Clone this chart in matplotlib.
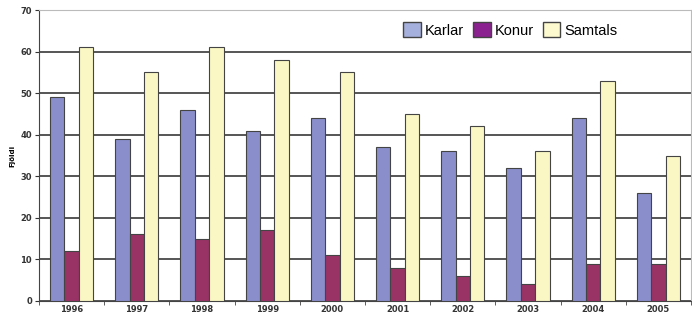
import numpy as np
import matplotlib.pyplot as plt

years = ['1996', '1997', '1998', '1999', '2000', '2001', '2002', '2003', '2004', '2005']
karlar = [49, 39, 46, 41, 44, 37, 36, 32, 44, 26]
konur = [12, 16, 15, 17, 11, 8, 6, 4, 9, 9]
samtals = [61, 55, 61, 58, 55, 45, 42, 36, 53, 35]
names = ['Karlar', 'Konur', 'Samtals']
colors = ['#8a8fcc', '#993366', '#faf7c4']
legend_colors = ['#a6b0dc', '#8b2090', '#fefad0']

fig = plt.figure(figsize=(6.92, 3.15), dpi=100)
ax = fig.add_axes([39/692, 14/315, 652/692, 291/315])

x = np.arange(len(years))
w = 0.22
for i, (vals, c) in enumerate(zip([karlar, konur, samtals], colors)):
    ax.bar(x + (i-1)*w, vals, w, color=c, edgecolor='#444444', linewidth=0.8, zorder=3)

ax.set_xlim(-0.5, len(years)-0.5)
ax.set_ylim(0, 70)
ax.set_yticks(np.arange(0, 71, 10))
ax.set_xticks(x)
ax.set_xticklabels(years)
ax.set_xticks(np.arange(-0.5, len(years), 1), minor=True)
ax.tick_params(axis='x', which='major', length=0, labelsize=6, colors='#333333', pad=3)
ax.tick_params(axis='x', which='minor', length=3, direction='out', color='#444444')
ax.tick_params(axis='y', length=3, direction='out', labelsize=6, colors='#333333', pad=2)
for lab in ax.get_xticklabels() + ax.get_yticklabels():
    lab.set_fontweight('bold')
ax.grid(axis='y', color='#555555', linewidth=1.4, zorder=0)
ax.spines['left'].set_color('#444444')
ax.spines['bottom'].set_color('#444444')
ax.spines['top'].set_color('#bbbbbb')
ax.spines['right'].set_color('#bbbbbb')
ax.set_ylabel('Fjöldi', fontsize=5, fontweight='bold', labelpad=4)

handles = [plt.Rectangle((0, 0), 1, 1, facecolor=c, edgecolor='#444444', linewidth=1)
           for c in legend_colors]
leg = fig.legend(handles, names, ncol=3, loc='upper left',
                 bbox_to_anchor=(396/692, 1-15/315), frameon=False,
                 prop={'family': ['Liberation Sans', 'DejaVu Sans'], 'size': 10.5},
                 handlelength=1.2, handleheight=1.2, columnspacing=0.6,
                 borderpad=0, handletextpad=0.3)

plt.savefig('out.png', dpi=100)
